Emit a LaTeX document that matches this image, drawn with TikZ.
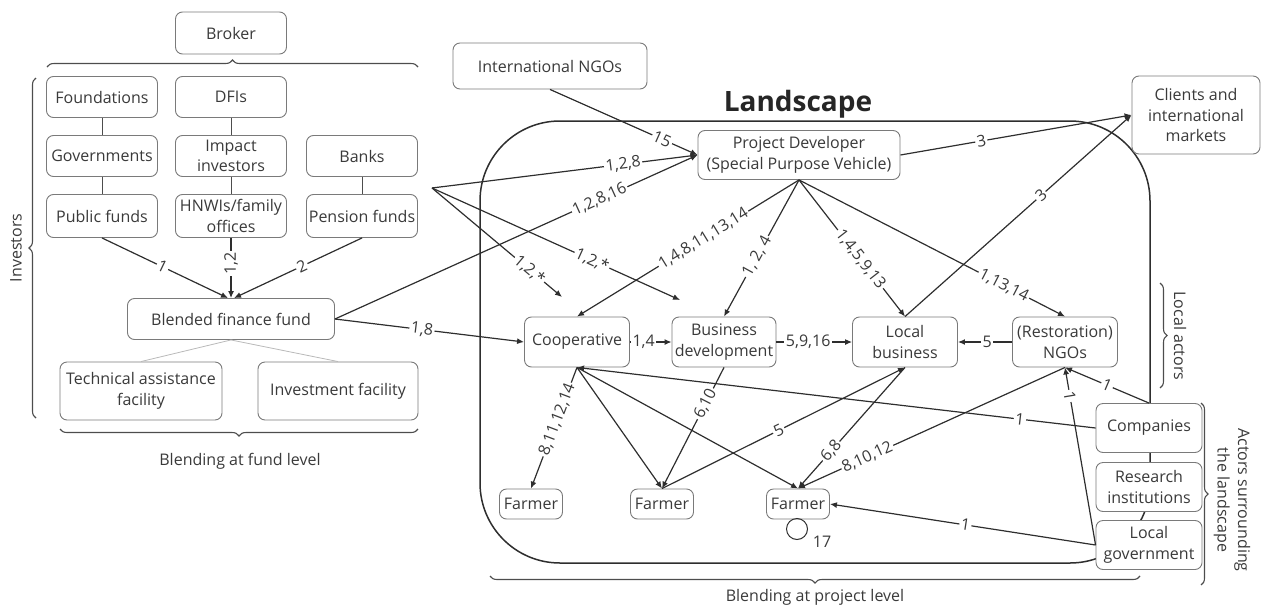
\documentclass[tikz,border=0pt]{standalone}
\usepackage{fontspec}
\setmainfont{Open Sans}
\usetikzlibrary{arrows.meta,decorations.pathreplacing,calc}
\definecolor{boxc}{HTML}{7A7A7A}
\definecolor{txt}{HTML}{3A3A3A}
\definecolor{ln}{HTML}{2E2E2E}
\begin{document}
\begin{tikzpicture}[x=1pt,y=-1pt,
 font=\fontsize{16}{20.5}\selectfont, text=txt,
 box/.style={draw=boxc, line width=0.9pt, rounded corners=7pt, fill=white, align=center, inner sep=0pt},
 sz/.style 2 args={minimum width=#1pt, minimum height=#2pt},
 conn/.style={draw=ln, line width=1.2pt},
 arr/.style={conn, -{Latex[length=7pt,width=6pt]}},
 lab/.style={fill=white, inner sep=1.5pt, sloped},
 vline/.style={draw=ln!85, line width=1pt},
 brc/.style={draw=ln!85, line width=1.1pt, decorate, decoration={brace, amplitude=7pt}},
]
\useasboundingbox (0,0) rectangle (1261,608);
% landscape frame
\draw[draw=ln, line width=1.5pt, rounded corners=80pt] (480,121) rectangle (1150,563);
\node[font=\fontsize{28}{32}\selectfont\bfseries, text=black!85] (title) at (798,104) {Landscape};

% investor side
\node[box, sz={111}{42}] (broker) at (231,33) {Broker};
\node[box, sz={111}{41}] (found) at (102,97) {Foundations};
\node[box, sz={111}{41}] (dfi) at (231,97) {DFIs};
\node[box, sz={111}{41}] (gov) at (102,156) {Governments};
\node[box, sz={111}{41}] (imp) at (231,156) {Impact\\investors};
\node[box, sz={111}{41}] (bank) at (362,156) {Banks};
\node[box, sz={111}{43}] (pub) at (102,216) {Public funds};
\node[box, sz={111}{43}] (hnw) at (231,216) {HNWIs/family\\offices};
\node[box, sz={111}{43}] (pen) at (362,216) {Pension funds};
\node[box, sz={207}{41}] (blend) at (231,319) {Blended finance fund};
\node[box, sz={162}{58}] (ta) at (141,391) {Technical assistance\\facility};
\node[box, sz={160}{58}] (invf) at (338,391) {Investment facility};

\draw[vline] (found.south) -- (gov.north);
\draw[vline] (gov.south) -- (pub.north);
\draw[vline] (dfi.south) -- (imp.north);
\draw[vline] (imp.south) -- (hnw.north);
\draw[vline] (bank.south) -- (pen.north);
\draw[draw=gray!55, line width=0.8pt] (blend.south) -- (ta.north);
\draw[draw=gray!55, line width=0.8pt] (blend.south) -- (invf.north);

% landscape nodes
\node[box, sz={194}{46}] (intngo) at (550,66) {International NGOs};
\node[box, sz={128}{78}] (clients) at (1196,115) {Clients and\\international\\markets};
\node[box, sz={202}{49}] (pd) at (799,155) {Project Developer\\(Special Purpose Vehicle)};
\node[box, sz={105}{50}] (coop) at (577,342) {Cooperative};
\node[box, sz={104}{50}] (bd) at (724,342) {Business\\development};
\node[box, sz={105}{50}] (lb) at (905,342) {Local\\business};
\node[box, sz={105}{50}] (ngo) at (1065,342) {(Restoration)\\NGOs};
\node[box, sz={106}{49}] (comp) at (1149,428) {Companies};
\node[box, sz={106}{49}] (res) at (1149,487) {Research\\institutions};
\node[box, sz={106}{49}] (lgov) at (1149,545) {Local\\government};
\node[box, sz={63}{30}] (f1) at (531,504) {Farmer};
\node[box, sz={63}{30}] (f2) at (662,504) {Farmer};
\node[box, sz={63}{30}] (f3) at (798,504) {Farmer};

\coordinate (inv) at (432,188);
\coordinate (a1) at (562,297);
\coordinate (a2) at (680,300);

% edges to blended fund
\draw[arr] (pub.south) -- node[lab,pos=0.48]{1} ([xshift=-3pt]blend.north);
\draw[arr] (hnw.south) -- node[fill=white,inner sep=1.5pt,rotate=90,pos=0.42]{1,2} (blend.north);
\draw[arr] (pen.south) -- node[lab,pos=0.47]{2} ([xshift=3pt]blend.north);

% edges into landscape
\draw[arr] (intngo.south) -- node[lab,pos=0.76]{15} (pd.west);
\draw[arr] (inv) -- node[lab,pos=0.72]{1,2,8} (pd.west);
\draw[arr] (blend.east) -- node[lab,pos=0.73]{1,2,8,16} (pd.west);
\draw[arr] (inv) -- node[lab,pos=0.75]{1,2,*} (a1);
\draw[arr] (inv) -- node[lab,pos=0.645]{1,2,*} (a2);
\draw[arr] (blend.east) -- node[lab,pos=0.46]{1,8} (coop.west);

\draw[arr] (pd.south) -- node[lab,pos=0.43]{1,4,8,11,13,14} (coop.north);
\draw[arr] (pd.south) -- node[lab,pos=0.56]{1, 2, 4} (bd.north);
\draw[arr] (pd.south) -- node[lab,pos=0.58]{1,4,5,9,13} (lb.north);
\draw[arr] (pd.south) -- node[lab,pos=0.77]{1,13,14} (ngo.north);
\draw[arr] (pd.east) -- node[lab,pos=0.35]{3} (clients.west);
\draw[arr] (lb.north) -- node[lab,pos=0.6]{3} (clients.west);

\draw[arr] (coop.east) -- node[lab,pos=0.33]{1,4} (bd.west);
\draw[arr] (bd.east) -- node[lab,pos=0.42]{5,9,16} (lb.west);
\draw[arr] (ngo.west) -- node[lab,pos=0.46]{5} (lb.east);

\draw[arr] (coop.south) -- node[lab,pos=0.43]{8,11,12,14} (f1.north);
\draw[arr] (coop.south) -- (f2.north);
\draw[arr] (coop.south) -- (f3.north);
\draw[arr] (bd.south) -- node[lab,pos=0.3]{6,10} (f2.north);
\draw[arr] (f2.north) -- node[lab,pos=0.48]{5} (lb.south);
\draw[arr] (lb.south) -- node[lab,pos=0.69]{6,8} (f3.north);
\draw[arr] (ngo.south) -- node[lab,pos=0.74]{8,10,12} (f3.north);
\draw[arr] (comp.north) -- node[lab,pos=0.5]{1} (ngo.south);
\draw[arr] (lgov.west) -- node[lab,pos=0.84]{1} (ngo.south);
\draw[arr] (lgov.west) -- node[lab,pos=0.49]{1} (f3.east);
\draw[arr] (comp.west) -- node[lab,pos=0.146]{1} (coop.south);

% loop
\draw[conn, line width=1pt] (797,529) circle[radius=10.5];
\node (n17) at (822,542) {17};

% braces
\draw[brc] (47,67) -- (418,67);
\draw[brc] (36,418) -- (36,78);
\draw[brc] (418,429) -- (60,429);
\draw[brc] (1140,576) -- (490,576);
\draw[brc] (1160,283) -- (1160,388);
\draw[brc] (1201,403) -- (1201,585);

\node[rotate=90] (invlab) at (16,248) {Investors};
\node (fundlab) at (240,461) {Blending at fund level};
\node (projlab) at (815,597) {Blending at project level};
\node[rotate=-90] (loclab) at (1180,336) {Local actors};
\node[rotate=-90, align=center] (surlab) at (1232,500) {Actors surrounding\\the landscape};
\end{tikzpicture}
\end{document}
